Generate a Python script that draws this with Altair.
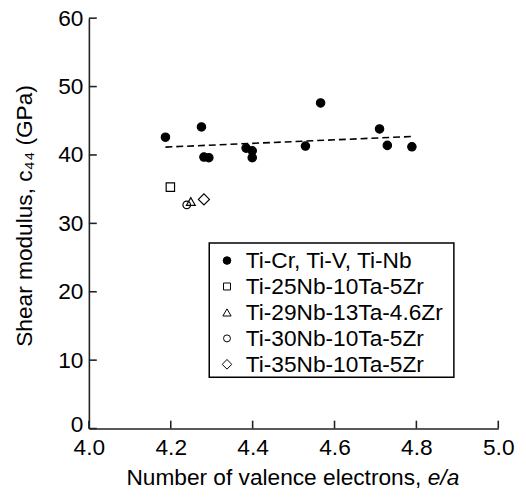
import altair as alt
import pandas as pd

FONT = "Liberation Sans"

# Ti-Cr, Ti-V, Ti-Nb binary alloys
bin_x = [4.187, 4.275, 4.281, 4.293, 4.384, 4.399, 4.399, 4.529, 4.566, 4.710, 4.729, 4.789]
bin_y = [42.6, 44.1, 39.7, 39.6, 41.0, 40.6, 39.6, 41.3, 47.6, 43.8, 41.4, 41.2]

# Gum-metal type alloys
series_names = ["Ti-Cr, Ti-V, Ti-Nb", "Ti-25Nb-10Ta-5Zr", "Ti-29Nb-13Ta-4.6Zr",
                "Ti-30Nb-10Ta-5Zr", "Ti-35Nb-10Ta-5Zr"]
alloy_names = ["Ti-25Nb-10Ta-5Zr", "Ti-29Nb-13Ta-4.6Zr", "Ti-30Nb-10Ta-5Zr", "Ti-35Nb-10Ta-5Zr"]
alloy_x = [4.199, 4.249, 4.239, 4.281]
alloy_y = [35.3, 33.2, 32.7, 33.5]

# trend line
trend_x = [4.187, 4.789]
trend_y = [41.15, 42.7]

shapes = ["circle", "square", "triangle-up", "circle", "diamond"]
fills = ["black", "transparent", "transparent", "transparent", "transparent"]
plot_sizes = [72, 72, 80, 60, 125]
legend_sizes = [60, 50, 70, 50, 95]

x_ticks = [4.0, 4.2, 4.4, 4.6, 4.8, 5.0]
y_ticks = [0, 10, 20, 30, 40, 50, 60]

pts = pd.DataFrame({
    "x": bin_x + alloy_x,
    "y": bin_y + alloy_y,
    "series": [series_names[0]] * len(bin_x) + alloy_names,
})
trend = pd.DataFrame({"x": trend_x, "y": trend_y})
xt = pd.DataFrame({"v": x_ticks})
yt = pd.DataFrame({"v": y_ticks})

W, H = 415, 416
AX = "#222222"

xscale = alt.Scale(domain=[4.0, 5.0], nice=False, zero=False)
yscale = alt.Scale(domain=[0, 60], nice=False)

xaxis = alt.Axis(values=x_ticks, format=".1f", ticks=False, tickSize=0, grid=False,
                 labelFontSize=23, labelFont=FONT, labelColor="black",
                 labelBaseline="alphabetic", labelPadding=26,
                 domainColor=AX, domainWidth=1.6, title=None, labelFlush=False)
yaxis = alt.Axis(values=y_ticks, ticks=False, tickSize=0, grid=False,
                 labelFontSize=23, labelFont=FONT, labelColor="black", labelPadding=6,
                 labelOffset={"condition": {"test": "datum.value == 0", "value": -4}, "value": 0},
                 domainColor=AX, domainWidth=1.6,
                 title="Shear modulus, c₄₄ (GPa)", titleFont=FONT, titleFontSize=23,
                 titleFontWeight="normal", titleColor="black", titleAngle=270,
                 titleX=-58, titleY=200, titleAlign="center", titleBaseline="alphabetic",
                 labelFlush=False)

layers = []

line = alt.Chart(trend).mark_line(
    color="black", strokeWidth=1.6, strokeDash=[7, 4]
).encode(x=alt.X("x:Q", scale=xscale, axis=xaxis), y=alt.Y("y:Q", scale=yscale, axis=yaxis))
layers.append(line)

base = alt.Chart(pts)
for name, shp, fl, sz in zip(series_names, shapes, fills, plot_sizes):
    layers.append(
        base.transform_filter(alt.datum.series == name).mark_point(
            shape=shp, fill=fl, filled=False, stroke="black", strokeWidth=1.2,
            size=sz, opacity=1, fillOpacity=1
        ).encode(x=alt.X("x:Q", scale=xscale), y=alt.Y("y:Q", scale=yscale))
    )

layers.append(alt.Chart(yt).mark_rule(color=AX, strokeWidth=1.6).encode(
    y=alt.Y("v:Q", scale=yscale), x=alt.value(0), x2=alt.value(8)))
layers.append(alt.Chart(xt).mark_rule(color=AX, strokeWidth=1.6).encode(
    x=alt.X("v:Q", scale=xscale), y=alt.value(H), y2=alt.value(H - 8)))

one = pd.DataFrame({"a": [0]})
layers.append(alt.Chart(one).mark_text(
    font=FONT, fontSize=23, align="right", baseline="alphabetic", color="black"
).encode(x=alt.value(337), y=alt.value(473), text=alt.value("Number of valence electrons,")))
layers.append(alt.Chart(one).mark_text(
    font=FONT, fontSize=23, fontStyle="italic", align="left", baseline="alphabetic", color="black"
).encode(x=alt.value(343.5), y=alt.value(473), text=alt.value("e/a")))

# legend (box, symbols, labels)
LX0, LX1, LY0, LY1 = 122, 370, 228, 364
layers.append(alt.Chart(one).mark_rect(fill="white", stroke="black", strokeWidth=1.5).encode(
    x=alt.value(LX0), x2=alt.value(LX1), y=alt.value(LY0), y2=alt.value(LY1)))
for i, (name, shp, fl, sz) in enumerate(zip(series_names, shapes, fills, legend_sizes)):
    ry = 245.7 + i * 26.3
    layers.append(alt.Chart(one).mark_point(
        shape=shp, fill=fl, filled=False, stroke="black", strokeWidth=1,
        size=sz, opacity=1, fillOpacity=1
    ).encode(x=alt.value(140), y=alt.value(ry)))
    layers.append(alt.Chart(one).mark_text(
        font=FONT, fontSize=23, align="left", baseline="middle", color="black"
    ).encode(x=alt.value(159), y=alt.value(ry + 1), text=alt.value(name)))

chart = alt.layer(*layers).properties(
    width=W, height=H,
    autosize=alt.AutoSizeParams(type="none"),
    padding={"left": 82, "top": 7, "right": 20, "bottom": 60},
).configure_view(stroke=None)

chart.save("out.html", embed_options={"renderer": "svg", "actions": False})
